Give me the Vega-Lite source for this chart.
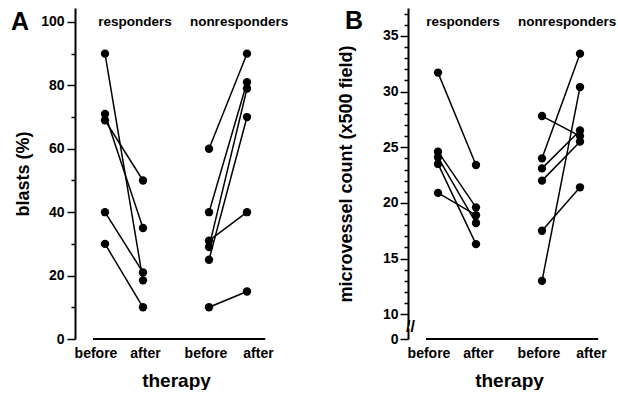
{
  "$schema": "https://vega.github.io/schema/vega-lite/v6.json",
  "padding": {"left": 10, "top": 6, "right": 0, "bottom": 0},
  "config": {
    "view": {"stroke": null},
    "font": "Liberation Sans",
    "axis": {
      "grid": false,
      "labelOverlap": false,
      "domainColor": "black",
      "domainWidth": 2,
      "tickColor": "black",
      "tickWidth": 1.5,
      "labelFont": "Liberation Sans",
      "labelFontWeight": "bold",
      "labelFontSize": 14,
      "labelColor": "black",
      "titleFont": "Liberation Sans",
      "titleFontWeight": "bold",
      "titleFontSize": 18,
      "titleColor": "black"
    }
  },
  "datasets": {
    "blasts": [
      {"subject": "a1", "group": "responders", "time": "before", "value": 90},
      {"subject": "a1", "group": "responders", "time": "after", "value": 18.5},
      {"subject": "a2", "group": "responders", "time": "before", "value": 71},
      {"subject": "a2", "group": "responders", "time": "after", "value": 35},
      {"subject": "a3", "group": "responders", "time": "before", "value": 69},
      {"subject": "a3", "group": "responders", "time": "after", "value": 50},
      {"subject": "a4", "group": "responders", "time": "before", "value": 40},
      {"subject": "a4", "group": "responders", "time": "after", "value": 21},
      {"subject": "a5", "group": "responders", "time": "before", "value": 30},
      {"subject": "a5", "group": "responders", "time": "after", "value": 10},
      {"subject": "a6", "group": "nonresponders", "time": "before", "value": 60},
      {"subject": "a6", "group": "nonresponders", "time": "after", "value": 90},
      {"subject": "a7", "group": "nonresponders", "time": "before", "value": 40},
      {"subject": "a7", "group": "nonresponders", "time": "after", "value": 81},
      {"subject": "a8", "group": "nonresponders", "time": "before", "value": 31},
      {"subject": "a8", "group": "nonresponders", "time": "after", "value": 40},
      {"subject": "a9", "group": "nonresponders", "time": "before", "value": 29},
      {"subject": "a9", "group": "nonresponders", "time": "after", "value": 79},
      {"subject": "a10", "group": "nonresponders", "time": "before", "value": 25},
      {"subject": "a10", "group": "nonresponders", "time": "after", "value": 70},
      {"subject": "a11", "group": "nonresponders", "time": "before", "value": 10},
      {"subject": "a11", "group": "nonresponders", "time": "after", "value": 15}
    ],
    "mvd": [
      {"subject": "b1", "group": "responders", "time": "before", "value": 31.7},
      {"subject": "b1", "group": "responders", "time": "after", "value": 23.4},
      {"subject": "b2", "group": "responders", "time": "before", "value": 24.6},
      {"subject": "b2", "group": "responders", "time": "after", "value": 19.6},
      {"subject": "b3", "group": "responders", "time": "before", "value": 24.1},
      {"subject": "b3", "group": "responders", "time": "after", "value": 18.2},
      {"subject": "b4", "group": "responders", "time": "before", "value": 23.5},
      {"subject": "b4", "group": "responders", "time": "after", "value": 16.3},
      {"subject": "b5", "group": "responders", "time": "before", "value": 20.9},
      {"subject": "b5", "group": "responders", "time": "after", "value": 18.9},
      {"subject": "b6", "group": "nonresponders", "time": "before", "value": 27.8},
      {"subject": "b6", "group": "nonresponders", "time": "after", "value": 26.0},
      {"subject": "b7", "group": "nonresponders", "time": "before", "value": 24.0},
      {"subject": "b7", "group": "nonresponders", "time": "after", "value": 33.4},
      {"subject": "b8", "group": "nonresponders", "time": "before", "value": 23.1},
      {"subject": "b8", "group": "nonresponders", "time": "after", "value": 26.5},
      {"subject": "b9", "group": "nonresponders", "time": "before", "value": 22.0},
      {"subject": "b9", "group": "nonresponders", "time": "after", "value": 25.5},
      {"subject": "b10", "group": "nonresponders", "time": "before", "value": 17.5},
      {"subject": "b10", "group": "nonresponders", "time": "after", "value": 21.4},
      {"subject": "b11", "group": "nonresponders", "time": "before", "value": 13.0},
      {"subject": "b11", "group": "nonresponders", "time": "after", "value": 30.4}
    ],
    "groups": [
      {"group": "responders"},
      {"group": "nonresponders"}
    ]
  },
  "spacing": 48,
  "hconcat": [
    {
      "width": 202,
      "height": 331,
      "resolve": {"axis": {"x": "independent", "y": "independent"}},
      "layer": [
        {
          "data": {"name": "blasts"},
          "mark": {"type": "line", "color": "black", "strokeWidth": 1.5},
          "encoding": {
            "x": {"field": "group", "type": "nominal", "scale": {"domain": ["responders", "nonresponders"], "paddingInner": 0.404, "paddingOuter": 0.173},
                  "axis": {"title": "therapy", "labels": false, "ticks": false, "domain": false, "titlePadding": 32, "titleFontSize": 19}},
            "xOffset": {"field": "time", "type": "nominal", "scale": {"type": "point", "domain": ["before", "after"], "padding": 0.316}},
            "y": {"field": "value", "type": "quantitative", "scale": {"domain": [0, 104.4], "nice": false, "zero": false},
                  "axis": {"title": "blasts (%)", "values": [0, 10, 20, 30, 40, 50, 60, 70, 80, 90, 100],
                           "labelExpr": "datum.value % 20 == 0 ? datum.label : ''",
                           "tickSize": {"condition": {"test": "datum.value % 20 == 0", "value": 8}, "value": 4},
                           "labelPadding": 3, "titlePadding": 8}},
            "detail": {"field": "subject"}
          }
        },
        {
          "data": {"name": "blasts"},
          "mark": {"type": "point", "filled": true, "size": 70, "color": "black", "opacity": 1},
          "encoding": {
            "x": {"field": "group", "type": "nominal", "axis": null},
            "xOffset": {"field": "time", "type": "nominal"},
            "y": {"field": "value", "type": "quantitative", "axis": null}
          }
        },
        {
          "data": {"values": [{}]},
          "mark": {"type": "rule", "color": "black", "strokeWidth": 2},
          "encoding": {
            "x": {"datum": "responders", "type": "nominal", "bandPosition": 0, "axis": null},
            "x2": {"datum": "nonresponders", "bandPosition": 1.1},
            "y": {"datum": 0, "type": "quantitative", "axis": null}
          }
        },
        {
          "data": {"values": [{"group": "responders", "time": "before"}]},
          "mark": {"type": "text", "fontSize": 14, "fontWeight": "bold", "baseline": "middle", "dy": 15, "dx": -28, "color": "black"},
          "encoding": {"x": {"field": "group", "type": "nominal", "axis": null}, "y": {"datum": 0, "type": "quantitative", "axis": null}, "text": {"field": "time"}}
        },
        {
          "data": {"values": [{"group": "responders", "time": "after"}]},
          "mark": {"type": "text", "fontSize": 14, "fontWeight": "bold", "baseline": "middle", "dy": 15, "dx": 21.5, "color": "black"},
          "encoding": {"x": {"field": "group", "type": "nominal", "axis": null}, "y": {"datum": 0, "type": "quantitative", "axis": null}, "text": {"field": "time"}}
        },
        {
          "data": {"values": [{"group": "nonresponders", "time": "before"}]},
          "mark": {"type": "text", "fontSize": 14, "fontWeight": "bold", "baseline": "middle", "dy": 15, "dx": -22, "color": "black"},
          "encoding": {"x": {"field": "group", "type": "nominal", "axis": null}, "y": {"datum": 0, "type": "quantitative", "axis": null}, "text": {"field": "time"}}
        },
        {
          "data": {"values": [{"group": "nonresponders", "time": "after"}]},
          "mark": {"type": "text", "fontSize": 14, "fontWeight": "bold", "baseline": "middle", "dy": 15, "dx": 30.5, "color": "black"},
          "encoding": {"x": {"field": "group", "type": "nominal", "axis": null}, "y": {"datum": 0, "type": "quantitative", "axis": null}, "text": {"field": "time"}}
        },
        {
          "data": {"name": "groups"},
          "mark": {"type": "text", "fontSize": 13.5, "fontWeight": "bold", "baseline": "middle", "dx": 11, "color": "black"},
          "encoding": {
            "x": {"field": "group", "type": "nominal", "axis": null},
            "y": {"datum": 100, "type": "quantitative", "axis": null},
            "text": {"field": "group"}
          }
        },
        {
          "data": {"values": [{"panel": "A"}]},
          "mark": {"type": "text", "fontSize": 25, "fontWeight": "bold", "baseline": "middle", "align": "left", "dx": -82, "dy": 0, "color": "black"},
          "encoding": {
            "x": {"datum": "responders", "type": "nominal", "bandPosition": 0, "axis": null},
            "y": {"datum": 100, "type": "quantitative", "axis": null},
            "text": {"field": "panel"}
          }
        }
      ]
    },
    {
      "width": 202,
      "height": 331,
      "resolve": {"axis": {"x": "independent", "y": "independent"}},
      "layer": [
        {
          "data": {"name": "mvd"},
          "mark": {"type": "line", "color": "black", "strokeWidth": 1.5},
          "encoding": {
            "x": {"field": "group", "type": "nominal", "scale": {"domain": ["responders", "nonresponders"], "paddingInner": 0.404, "paddingOuter": 0.173},
                  "axis": {"title": "therapy", "labels": false, "ticks": false, "domain": false, "titlePadding": 32, "titleFontSize": 19}},
            "xOffset": {"field": "time", "type": "nominal", "scale": {"type": "point", "domain": ["before", "after"], "padding": 0.316}},
            "y": {"field": "value", "type": "quantitative", "scale": {"domain": [0, 10, 37.5], "range": [331, 306.3, 0], "nice": false, "zero": false},
                  "axis": {"title": "microvessel count (x500 field)",
                           "values": [0, 5, 10, 11, 12, 13, 14, 15, 16, 17, 18, 19, 20, 21, 22, 23, 24, 25, 26, 27, 28, 29, 30, 31, 32, 33, 34, 35, 36, 37],
                           "labelExpr": "datum.value == 0 ? '0' : datum.value == 5 ? '//' : (datum.value % 5 == 0 ? datum.label : '')",
                           "tickSize": {"condition": {"test": "datum.value % 5 == 0", "value": 8}, "value": 4},
                           "tickOpacity": {"condition": {"test": "datum.value == 5", "value": 0}, "value": 1},
                           "labelAlign": {"condition": {"test": "datum.value == 5", "value": "center"}, "value": "right"},
                           "labelPadding": {"condition": {"test": "datum.value == 5", "value": -10}, "value": 2},
                           "labelFontSize": {"condition": {"test": "datum.value == 5", "value": 16}, "value": 14},
                           "domainDash": [11, 3, 400],
                           "titlePadding": 27}},
            "detail": {"field": "subject"}
          }
        },
        {
          "data": {"name": "mvd"},
          "mark": {"type": "point", "filled": true, "size": 70, "color": "black", "opacity": 1},
          "encoding": {
            "x": {"field": "group", "type": "nominal", "axis": null},
            "xOffset": {"field": "time", "type": "nominal"},
            "y": {"field": "value", "type": "quantitative", "axis": null}
          }
        },
        {
          "data": {"values": [{}]},
          "mark": {"type": "rule", "color": "black", "strokeWidth": 2},
          "encoding": {
            "x": {"datum": "responders", "type": "nominal", "bandPosition": 0, "axis": null},
            "x2": {"datum": "nonresponders", "bandPosition": 1.1},
            "y": {"datum": 0, "type": "quantitative", "axis": null}
          }
        },
        {
          "data": {"values": [{"group": "responders", "time": "before"}]},
          "mark": {"type": "text", "fontSize": 14, "fontWeight": "bold", "baseline": "middle", "dy": 15, "dx": -28, "color": "black"},
          "encoding": {"x": {"field": "group", "type": "nominal", "axis": null}, "y": {"datum": 0, "type": "quantitative", "axis": null}, "text": {"field": "time"}}
        },
        {
          "data": {"values": [{"group": "responders", "time": "after"}]},
          "mark": {"type": "text", "fontSize": 14, "fontWeight": "bold", "baseline": "middle", "dy": 15, "dx": 21.5, "color": "black"},
          "encoding": {"x": {"field": "group", "type": "nominal", "axis": null}, "y": {"datum": 0, "type": "quantitative", "axis": null}, "text": {"field": "time"}}
        },
        {
          "data": {"values": [{"group": "nonresponders", "time": "before"}]},
          "mark": {"type": "text", "fontSize": 14, "fontWeight": "bold", "baseline": "middle", "dy": 15, "dx": -22, "color": "black"},
          "encoding": {"x": {"field": "group", "type": "nominal", "axis": null}, "y": {"datum": 0, "type": "quantitative", "axis": null}, "text": {"field": "time"}}
        },
        {
          "data": {"values": [{"group": "nonresponders", "time": "after"}]},
          "mark": {"type": "text", "fontSize": 14, "fontWeight": "bold", "baseline": "middle", "dy": 15, "dx": 30.5, "color": "black"},
          "encoding": {"x": {"field": "group", "type": "nominal", "axis": null}, "y": {"datum": 0, "type": "quantitative", "axis": null}, "text": {"field": "time"}}
        },
        {
          "data": {"name": "groups"},
          "mark": {"type": "text", "fontSize": 13.5, "fontWeight": "bold", "baseline": "middle", "dx": 6, "color": "black"},
          "encoding": {
            "x": {"field": "group", "type": "nominal", "axis": null},
            "y": {"datum": 36.2, "type": "quantitative", "axis": null},
            "text": {"field": "group"}
          }
        },
        {
          "data": {"values": [{"panel": "B"}]},
          "mark": {"type": "text", "fontSize": 25, "fontWeight": "bold", "baseline": "middle", "align": "left", "dx": -81, "dy": -1, "color": "black"},
          "encoding": {
            "x": {"datum": "responders", "type": "nominal", "bandPosition": 0, "axis": null},
            "y": {"datum": 36.2, "type": "quantitative", "axis": null},
            "text": {"field": "panel"}
          }
        }
      ]
    }
  ]
}
